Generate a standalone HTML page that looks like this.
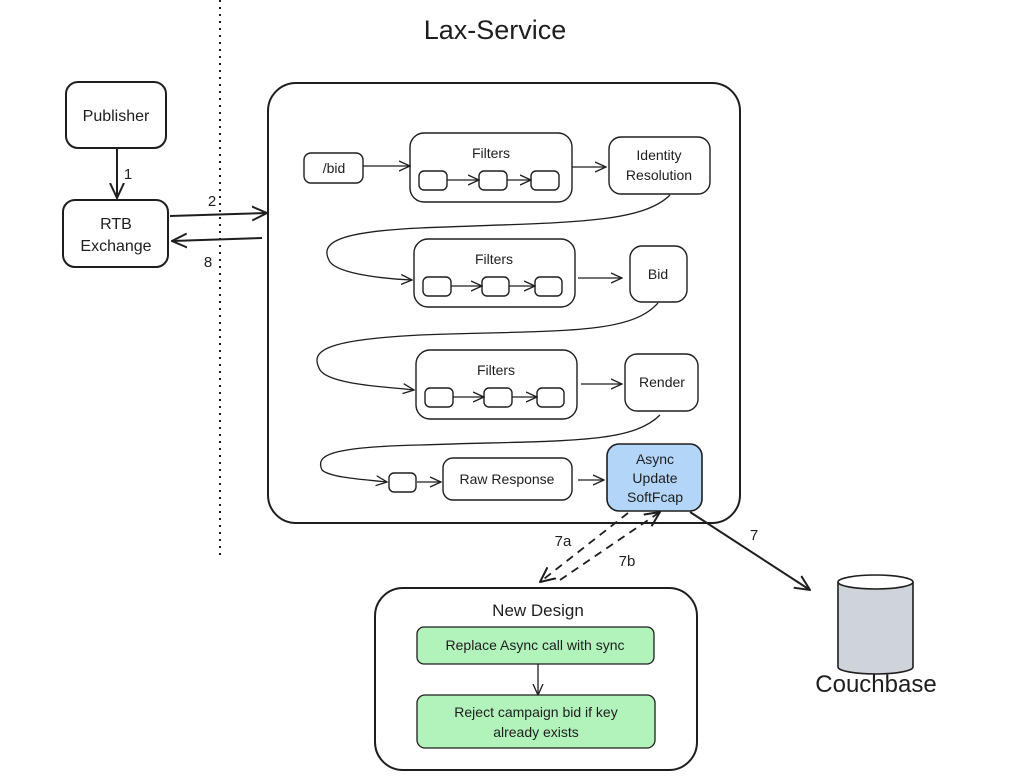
<!DOCTYPE html>
<html><head><meta charset="utf-8"><style>
html,body{margin:0;padding:0;background:#fff;width:1020px;height:780px;overflow:hidden}
text{font-family:"Liberation Sans",sans-serif;fill:#1e1e1e}
</style></head><body>
<svg width="1020" height="780" viewBox="0 0 1020 780" xmlns="http://www.w3.org/2000/svg">
<defs>
<marker id="a" viewBox="0 0 12 12" refX="11" refY="6" markerWidth="12" markerHeight="12" markerUnits="userSpaceOnUse" orient="auto"><path d="M0,1 L11,6 L0,11" fill="none" stroke="#1e1e1e" stroke-width="1.3"/></marker>
<marker id="b" viewBox="0 0 16 16" refX="15" refY="8" markerWidth="16" markerHeight="16" markerUnits="userSpaceOnUse" orient="auto"><path d="M0,1 L15,8 L0,15" fill="none" stroke="#1e1e1e" stroke-width="2"/></marker>
</defs>
<line x1="220" y1="0" x2="220" y2="556" stroke="#1e1e1e" stroke-width="2" stroke-dasharray="2,5"/>
<text x="495" y="39" font-size="27" text-anchor="middle">Lax-Service</text>
<g fill="none" stroke="#1e1e1e">
<rect x="268" y="83" width="472" height="440" rx="28" stroke-width="2"/>
<rect x="66" y="82" width="100" height="66" rx="12" stroke-width="2"/>
<rect x="63" y="200" width="105" height="67" rx="12" stroke-width="2"/>
<g stroke-width="1.4">
<rect x="304" y="153" width="59" height="30" rx="7"/>
<rect x="410" y="133" width="162" height="69" rx="14"/>
<rect x="419" y="171" width="28" height="19" rx="5"/><rect x="479" y="171" width="28" height="19" rx="5"/><rect x="531" y="171" width="28" height="19" rx="5"/>
<rect x="609" y="137" width="101" height="57" rx="12"/>
<rect x="414" y="239" width="161" height="68" rx="14"/>
<rect x="423" y="277" width="28" height="19" rx="5"/><rect x="482" y="277" width="27" height="19" rx="5"/><rect x="535" y="277" width="27" height="19" rx="5"/>
<rect x="630" y="246" width="57" height="56" rx="12"/>
<rect x="416" y="350" width="161" height="69" rx="14"/>
<rect x="425" y="388" width="28" height="19" rx="5"/><rect x="484" y="388" width="28" height="19" rx="5"/><rect x="537" y="388" width="27" height="19" rx="5"/>
<rect x="625" y="354" width="73" height="57" rx="12"/>
<rect x="389" y="473" width="27" height="19" rx="5"/>
<rect x="443" y="458" width="129" height="42" rx="10"/>
</g>
<rect x="607" y="444" width="95" height="67" rx="12" fill="#b3d5f7" stroke-width="1.6"/>
<g stroke-width="1.3" marker-end="url(#a)">
<line x1="363" y1="166" x2="410" y2="166"/>
<line x1="447" y1="180" x2="479" y2="180"/><line x1="507" y1="180" x2="531" y2="180"/>
<line x1="572" y1="167" x2="606" y2="167"/>
<line x1="451" y1="286" x2="482" y2="286"/><line x1="509" y1="286" x2="535" y2="286"/>
<line x1="578" y1="278" x2="622" y2="278"/>
<line x1="453" y1="397" x2="484" y2="397"/><line x1="512" y1="397" x2="537" y2="397"/>
<line x1="581" y1="384" x2="622" y2="384"/>
<line x1="417" y1="482" x2="441" y2="482"/>
<line x1="578" y1="480" x2="604" y2="480"/>
<path d="M670,195 C640,225 560,222 420,228 C330,232 320,245 330,262 C340,275 390,279 412,280"/>
<path d="M658,303 C630,335 560,330 420,335 C320,340 310,352 320,370 C330,385 390,387 414,390"/>
<path d="M660,415 C630,445 560,440 420,445 C330,447 315,455 322,470 C330,478 370,480 387,482"/>
<line x1="538" y1="661" x2="538" y2="695"/>
</g>
<g stroke-width="2" marker-end="url(#b)">
<line x1="117" y1="148" x2="117" y2="198"/>
<line x1="170" y1="216" x2="267" y2="213"/>
<line x1="262" y1="238" x2="172" y2="241"/>
<line x1="690" y1="512" x2="810" y2="590"/>
</g>
<g stroke-width="1.8" stroke-dasharray="8,6" marker-end="url(#b)">
<line x1="628" y1="513" x2="540" y2="582"/>
<line x1="560" y1="580" x2="660" y2="512"/>
</g>
<rect x="375" y="588" width="322" height="182" rx="28" stroke-width="2"/>
<rect x="417" y="627" width="237" height="37" rx="7" fill="#b2f2bb" stroke-width="1.3"/>
<rect x="417" y="695" width="238" height="53" rx="8" fill="#b2f2bb" stroke-width="1.3"/>
<path d="M838,582 L838,667 A37.5,7 0 0 0 913,667 L913,582" fill="#ced4da" stroke-width="1.6"/>
<ellipse cx="875.5" cy="582" rx="37.5" ry="7" fill="#fff" stroke-width="1.6"/>
</g>
<g font-size="16" text-anchor="middle">
<text x="116" y="121">Publisher</text>
<text x="116" y="229">RTB</text><text x="116" y="251">Exchange</text>
<text x="128" y="179" font-size="15">1</text>
<text x="212" y="206" font-size="15">2</text>
<text x="208" y="267" font-size="15">8</text>
</g>
<g font-size="14" text-anchor="middle">
<text x="334" y="173">/bid</text>
<text x="491" y="158">Filters</text>
<text x="659" y="160">Identity</text><text x="659" y="180">Resolution</text>
<text x="494" y="264">Filters</text>
<text x="658" y="279">Bid</text>
<text x="496" y="375">Filters</text>
<text x="662" y="387">Render</text>
<text x="507" y="484">Raw Response</text>
<text x="655" y="464">Async</text><text x="655" y="483">Update</text><text x="655" y="502">SoftFcap</text>
<text x="563" y="546" font-size="15">7a</text>
<text x="627" y="566" font-size="15">7b</text>
<text x="754" y="540" font-size="15">7</text>
<text x="538" y="616" font-size="17">New Design</text>
<text x="535" y="650">Replace Async call with sync</text>
<text x="536" y="717">Reject campaign bid if key</text>
<text x="536" y="737">already exists</text>
<text x="876" y="692" font-size="24">Couchbase</text>
</g>
</svg>
</body></html>
